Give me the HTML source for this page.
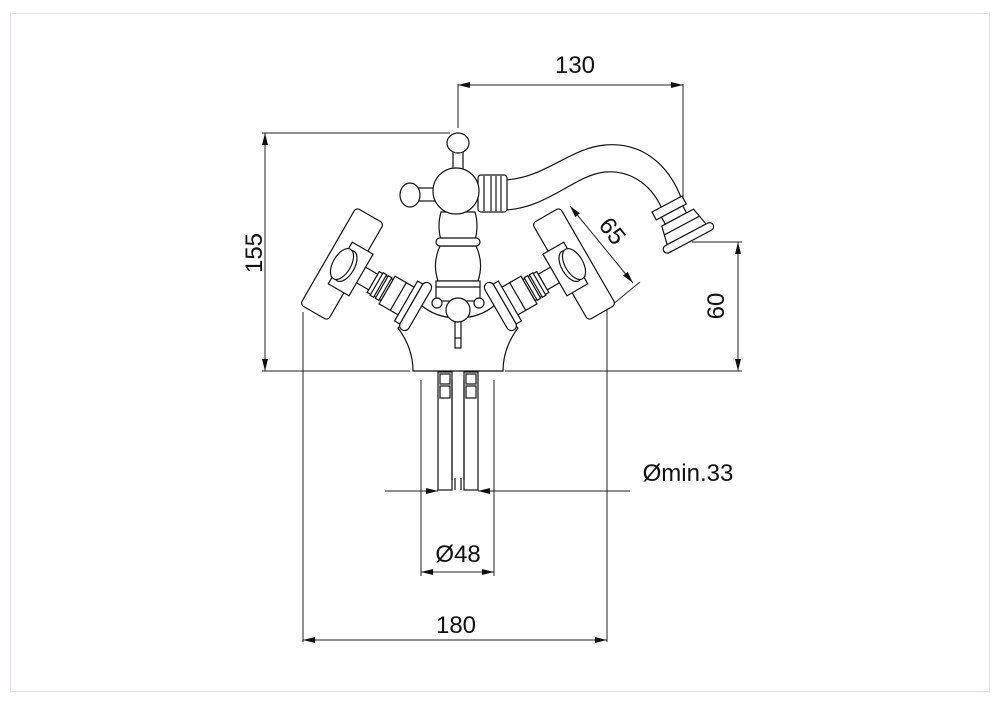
<!DOCTYPE html>
<html><head><meta charset="utf-8"><style>
html,body{margin:0;padding:0;background:#fff;}
svg{display:block;}
text{font-family:"Liberation Sans",sans-serif;font-size:24px;fill:#111;}
</style></head><body>
<svg width="1000" height="707" viewBox="0 0 1000 707" xmlns="http://www.w3.org/2000/svg">
<defs>
<marker id="a" viewBox="0 0 12 6" refX="12" refY="3" markerWidth="12" markerHeight="6" orient="auto-start-reverse" markerUnits="userSpaceOnUse"><path d="M0,0 L12,3 L0,6 Z" fill="#111"/></marker>
<g id="valve" fill="#fff" stroke="#111" stroke-width="1.2">
  <rect x="52" y="-16" width="26" height="32"/>
  <line x1="65" y1="-16" x2="65" y2="16"/>
  <rect x="36" y="-12" width="16" height="24"/>
  <rect x="40" y="-13" width="4" height="26"/>
  <rect x="46" y="-13" width="4" height="26"/>
  <rect x="16" y="-9" width="20" height="18"/>
  <rect x="80" y="-27" width="10" height="54" rx="5"/>
  <rect x="74" y="-23" width="6" height="46"/>
  <rect x="-16" y="-56" width="32" height="112" rx="4"/>
  <rect x="-2" y="-24" width="24" height="48"/>
  <ellipse cx="4" cy="0" rx="9" ry="17"/>
  <ellipse cx="0" cy="0" rx="9" ry="17"/>
</g>
</defs>
<rect x="10.5" y="13.5" width="979" height="678" fill="none" stroke="#ead8e2" stroke-width="1"/>

<g stroke="#222" stroke-width="1" fill="none">
  <line x1="458" y1="84" x2="458" y2="128"/>
  <line x1="683" y1="84" x2="683" y2="238"/>
  <line x1="458" y1="85" x2="683" y2="85" marker-start="url(#a)" marker-end="url(#a)"/>
  <line x1="262" y1="133" x2="450" y2="133"/>
  <line x1="265" y1="133" x2="265" y2="371" marker-start="url(#a)" marker-end="url(#a)"/>
  <line x1="262" y1="371" x2="410" y2="371"/>
  <line x1="505" y1="371" x2="742" y2="371"/>
  <line x1="692" y1="242" x2="742" y2="242"/>
  <line x1="738" y1="242" x2="738" y2="371" marker-start="url(#a)" marker-end="url(#a)"/>
  <line x1="570" y1="206" x2="633" y2="283" marker-start="url(#a)" marker-end="url(#a)"/>
  <line x1="612" y1="305" x2="640" y2="282"/>
  <line x1="303" y1="312" x2="303" y2="642"/>
  <line x1="607" y1="310" x2="607" y2="642"/>
  <line x1="303" y1="640" x2="607" y2="640" marker-start="url(#a)" marker-end="url(#a)"/>
  <line x1="421" y1="380" x2="421" y2="576"/>
  <line x1="494" y1="380" x2="494" y2="576"/>
  <line x1="421" y1="572" x2="494" y2="572" marker-start="url(#a)" marker-end="url(#a)"/>
  <line x1="385" y1="491" x2="438" y2="491" marker-end="url(#a)"/>
  <line x1="630" y1="491" x2="478" y2="491" marker-end="url(#a)"/>
</g>

<text x="575" y="73" text-anchor="middle">130</text>
<text transform="translate(262,253) rotate(-90)" text-anchor="middle">155</text>
<text transform="translate(724,306) rotate(-90)" text-anchor="middle">60</text>
<text transform="translate(606,236) rotate(52)" text-anchor="middle">65</text>
<text x="456" y="633" text-anchor="middle">180</text>
<text x="458" y="562" text-anchor="middle">Ø48</text>
<text x="688" y="481" text-anchor="middle">Ømin.33</text>

<g fill="#fff" stroke="#111" stroke-width="1.2">
  <rect x="438" y="372" width="14" height="118"/>
  <rect x="464" y="372" width="14" height="118"/>
  <rect x="440" y="374" width="10" height="10"/><rect x="466" y="374" width="10" height="10"/>
  <rect x="440" y="386" width="10" height="12"/><rect x="466" y="386" width="10" height="12"/>
  <line x1="452" y1="380" x2="452" y2="480"/><line x1="464" y1="380" x2="464" y2="480"/>
  <line x1="455" y1="478" x2="455" y2="490"/><line x1="461" y1="478" x2="461" y2="490"/>
  <path d="M398,328 Q413,348 413,371 L503,371 Q503,348 518,328 L495,305 Q480,318 458,318 Q436,318 421,305 Z"/>
  <path d="M505,180 C545,178 570,148 605,145 C640,142 668,162 682,200 L664,214 C654,186 632,170 605,172 C575,175 548,208 505,210 Z"/>
  <g transform="translate(680,222) rotate(-28)">
    <rect x="-20" y="-22" width="34" height="9"/>
    <rect x="-14" y="-13" width="24" height="8"/>
    <path d="M-18,-5 L18,-5 L22,14 L-22,14 Z"/>
    <line x1="-20" y1="4" x2="20" y2="4"/>
    <rect x="-28" y="14" width="56" height="8" rx="4"/>
  </g>
  <rect x="478" y="175" width="29" height="37" rx="3"/>
  <line x1="484" y1="176" x2="484" y2="211"/><line x1="491" y1="176" x2="491" y2="211"/>
  <line x1="496" y1="176" x2="496" y2="211"/><line x1="501" y1="176" x2="501" y2="211"/>
  <path d="M441,212 Q437,226 441,240 L475,240 Q479,226 475,212 Z"/>
  <path d="M440,246 Q432,263 438,281 L478,281 Q484,263 476,246 Z"/>
  <rect x="436" y="238" width="44" height="8" rx="4"/>
  <rect x="436" y="281" width="44" height="20"/>
  <line x1="436" y1="287" x2="480" y2="287"/>
  <circle cx="437" cy="303" r="5"/><circle cx="479" cy="303" r="5"/>
  <path d="M455,318 L455,348 L461,348 L461,318 Z"/>
  <line x1="455" y1="338" x2="461" y2="338"/>
  <circle cx="458" cy="310" r="12"/>
  <rect x="453" y="150" width="10" height="20"/>
  <ellipse cx="458" cy="143" rx="11" ry="10"/>
  <rect x="418" y="188" width="18" height="13"/>
  <ellipse cx="410" cy="195" rx="10" ry="12"/>
  <circle cx="456" cy="191" r="23"/>
  <use href="#valve" transform="translate(574,264) rotate(150)"/>
  <use href="#valve" transform="translate(342,264) rotate(30)"/>
</g>
</svg>
</body></html>
